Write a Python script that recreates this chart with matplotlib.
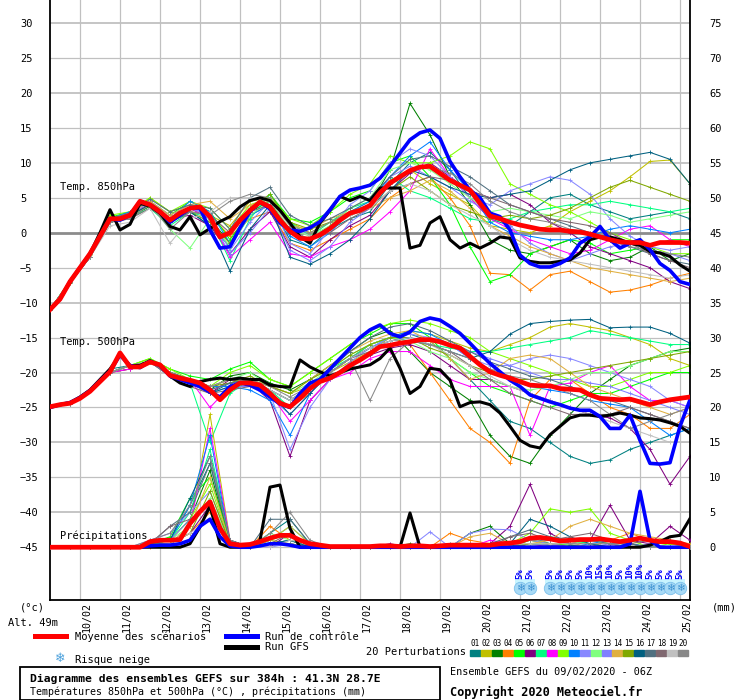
import matplotlib
matplotlib.use("Agg")
import matplotlib.pyplot as plt
import numpy as np
from matplotlib.lines import Line2D
from matplotlib.patches import Rectangle
from matplotlib.transforms import ScaledTranslation

plt.rcParams['font.family'] = ['DejaVu Sans Mono', 'DejaVu Sans']

# Echéances (heures depuis le 09/02/2020 06Z)
heures_6h = np.arange(0, 385, 6)
heures_12h = np.arange(0, 385, 12)

jours = ['10/02', '11/02', '12/02', '13/02', '14/02', '15/02', '16/02', '17/02',
         '18/02', '19/02', '20/02', '21/02', '22/02', '23/02', '24/02', '25/02']
heures_jours = [18, 42, 66, 90, 114, 138, 162, 186, 210, 234, 258, 282, 306, 330, 354, 378]

couleurs = ['#008080', '#c0c000', '#008000', '#ff8000', '#00ff00', '#800080', '#00ff80',
            '#ff00ff', '#80ff00', '#0080ff', '#8888ff', '#80ff80', '#8080ff', '#e0b040',
            '#80a800', '#006080', '#507080', '#806870', '#c0c0c0', '#888888']

# --- Moyenne, contrôle, GFS (pas de 6h) ---
t850_moy = [-11, -9.5, -7, -5, -3, -0.5, 2.0, 2.0, 2.5, 4.5, 4.0, 3.0, 1.8, 2.8, 3.5, 3.7,
            2.3, -0.6, 0.0, 1.8, 3.2, 4.4, 3.7, 1.8, 0.2, -0.8, -0.9, -0.3, 0.6, 1.8, 2.8, 3.2,
            3.9, 5.7, 7.1, 8.0, 8.9, 9.4, 9.5, 8.5, 7.5, 6.8, 6.1, 4.2, 2.4, 2.0, 1.5, 1.1,
            0.8, 0.5, 0.4, 0.4, 0.2, 0.1, -0.2, -0.6, -1.0, -1.3, -1.4, -1.4, -1.8, -1.4, -1.4,
            -1.4, -1.5]
t850_ctrl = [-11, -9.5, -7, -5, -3, -0.5, 2.0, 1.8, 2.5, 4.5, 4.0, 3.0, 1.5, 2.5, 3.5, 3.5,
             0.4, -2.2, -2.0, 0.7, 3.0, 4.4, 3.4, 1.4, 0.4, 0.2, 0.7, 1.6, 3.3, 5.2, 6.1, 6.4,
             6.8, 7.8, 9.5, 11.4, 13.3, 14.3, 14.7, 13.5, 10.2, 8.0, 6.1, 5.0, 2.8, 2.3, 0.4,
             -3.2, -4.4, -4.9, -4.9, -4.4, -3.6, -1.5, -0.6, 0.9, -1.0, -2.2, -1.5, -1.0, -2.4,
             -4.4, -5.4, -7.0, -7.4]
t850_gfs = [-11, -9.5, -7, -5, -3, 0.0, 3.3, 0.4, 1.2, 4.2, 3.8, 2.8, 0.9, 0.4, 2.3, -0.3,
            0.6, 1.6, 2.3, 3.7, 4.6, 5.0, 4.6, 3.2, 1.4, -0.6, -1.5, 1.4, 3.2, 5.2, 4.6, 5.2,
            4.6, 6.4, 6.4, 6.4, -2.2, -1.8, 1.4, 2.3, -1.0, -2.2, -1.5, -2.2, -1.5, -0.6, -0.8,
            -3.6, -4.1, -4.3, -4.3, -4.1, -3.9, -2.9, -1.0, -0.6, -0.6, -1.0, -1.5, -1.8, -2.7,
            -2.9, -3.4, -4.6, -5.5]

t500_moy = [-24.9, -24.6, -24.4, -23.7, -22.7, -21.3, -19.9, -17.2, -19.2, -19.2, -18.5, -18.9,
            -20.4, -20.8, -21.1, -21.5, -22.5, -23.9, -22.5, -21.5, -21.5, -21.8, -23.0, -24.4,
            -24.9, -23.7, -22.3, -21.3, -20.8, -20.0, -19.0, -18.2, -17.3, -16.3, -16.1, -15.8,
            -15.6, -15.3, -15.3, -15.6, -16.1, -16.5, -17.7, -18.9, -19.9, -20.4, -20.8, -21.3,
            -21.8, -21.9, -21.9, -22.3, -22.4, -22.5, -23.2, -23.7, -23.8, -23.9, -23.8, -24.2,
            -24.6, -24.2, -23.9, -23.7, -23.5]
t500_ctrl = [-25, -24.6, -24.3, -23.6, -22.6, -21.2, -19.8, -17.5, -19.0, -19.3, -18.4, -19.0,
             -20.5, -21.0, -21.5, -22.0, -22.8, -23.5, -22.0, -21.5, -21.8, -22.5, -23.5, -24.5,
             -25.0, -23.0, -21.5, -21.0, -19.5, -18.0, -16.5, -15.0, -13.9, -13.2, -14.4, -14.9,
             -14.2, -12.7, -12.2, -12.5, -13.4, -14.4, -15.8, -17.3, -18.7, -19.9, -21.1, -22.0,
             -23.2, -23.7, -24.2, -24.6, -25.1, -25.4, -25.4, -26.3, -28.0, -28.0, -26.1, -29.7,
             -33.0, -33.1, -32.9, -27.7, -23.9]
t500_gfs = [-25, -24.6, -24.3, -23.5, -22.5, -21.0, -19.5, -17.5, -19.0, -19.0, -18.3, -19.0,
            -20.5, -21.5, -22.0, -21.3, -21.0, -20.8, -21.0, -20.8, -21.0, -21.0, -21.8, -22.0,
            -22.1, -18.2, -19.2, -19.9, -20.5, -20.0, -19.5, -19.2, -18.9, -18.0, -16.5, -19.4,
            -23.0, -22.0, -19.4, -19.6, -21.1, -24.9, -24.3, -24.2, -24.6, -25.8, -27.7, -29.7,
            -30.5, -30.8, -28.9, -27.7, -26.5, -26.1, -26.1, -26.3, -26.1, -25.8, -26.1, -26.5,
            -26.6, -26.8, -27.2, -27.7, -28.7]

precip_moy = [0, 0, 0, 0, 0, 0, 0, 0, 0, 0, 0.8, 1.0, 1.0, 1.1, 3.4, 5.1, 6.5, 2.7, 0.5, 0.3,
              0.4, 0.8, 1.3, 1.7, 1.7, 1.0, 0.5, 0.3, 0.1, 0.1, 0.1, 0.1, 0.1, 0.2, 0.2, 0.1,
              0.2, 0.2, 0.1, 0.2, 0.3, 0.3, 0.3, 0.3, 0.3, 0.5, 0.6, 0.8, 1.3, 1.4, 1.2, 0.9,
              1.0, 1.1, 1.1, 1.2, 1.0, 0.8, 1.0, 1.3, 1.0, 0.8, 0.8, 0.6, 0.1]
precip_ctrl = [0, 0, 0, 0, 0, 0, 0, 0, 0, 0, 0.2, 0.3, 0.3, 0.5, 1.0, 3.0, 4.0, 1.5, 0.2, 0,
               0, 0.2, 0.5, 0.5, 0.3, 0, 0, 0, 0, 0, 0, 0, 0, 0, 0, 0, 0, 0, 0, 0, 0, 0, 0, 0,
               0, 0, 0, 0, 0, 0, 0, 0, 0, 0, 0, 0, 0, 0, 0.5, 8.0, 1.0, 0, 0, 0, 0]
precip_gfs = [0, 0, 0, 0, 0, 0, 0, 0, 0, 0, 0, 0, 0, 0, 0.5, 2.9, 5.9, 0.5, 0, 0, 0, 1.0,
              8.6, 8.9, 2.7, 0, 0, 0, 0, 0, 0, 0, 0, 0, 0, 0, 4.9, 0, 0, 0, 0, 0, 0, 0, 0, 0,
              0, 0, 0, 0, 0, 0, 0, 0, 0, 0, 0, 0, 0, 0, 0.3, 0.8, 1.5, 1.7, 4.1]

# --- 20 perturbations (pas de 12h) ---
t850_membres = [
    [-11, -7, -3.5, 1.5, 2.5, 4.2, 2.0, 3.0, 1.0, -2.0, 2.5, 4.0, -1.0, -2.0, 0.5, 2.0, 3.0, 7.0, 10.0, 11.5, 9.0, 5.0, 2.0, 1.0, 3.0, 5.0, 5.5, 4.0, 3.0, 2.0, 2.5, 3.0, 2.0],
    [-11, -7, -3.2, 2.0, 2.8, 5.0, 3.0, 4.0, 2.5, 1.0, 4.5, 5.0, 1.5, 0.0, 1.5, 3.0, 4.5, 7.5, 9.0, 7.0, 5.5, 4.0, 1.0, 0.5, 0.0, 1.0, 3.0, 4.5, 6.0, 8.0, 10.2, 10.4, 7.0],
    [-11, -7.2, -3.5, 1.8, 2.2, 3.8, 1.5, 3.5, 2.0, -1.5, 3.0, 4.5, 0.0, -1.0, 1.0, 3.0, 4.0, 9.0, 18.5, 14.0, 8.0, 4.0, -1.0, -2.5, -3.0, -2.0, -1.0, -3.0, -4.0, -3.5, -2.0, -4.0, -3.0],
    [-11, -7, -3.5, 2.0, 2.5, 4.0, 1.5, 3.0, 2.5, -0.5, 2.0, 3.0, -1.5, -2.5, -1.0, 0.5, 2.0, 5.0, 7.0, 8.0, 5.0, 1.0, -5.8, -6.0, -8.2, -6.0, -5.5, -7.0, -8.5, -8.2, -7.5, -6.5, -5.8],
    [-11, -6.8, -3.0, 2.2, 3.0, 4.5, 2.5, 4.5, 3.0, -1.0, 3.0, 5.5, 2.0, 1.5, 3.0, 5.0, 6.0, 10.0, 11.0, 8.0, 4.0, -2.0, -7.0, -6.0, -3.0, -2.0, -1.0, -1.5, -3.0, -2.5, -2.0, -1.0, -1.0],
    [-11, -7, -3.5, 1.8, 3.0, 4.5, 2.0, 2.5, 1.0, -3.0, 0.5, 3.0, -2.0, -3.5, -1.0, 1.0, 2.5, 6.0, 8.5, 10.0, 8.0, 6.0, 5.0, 5.5, 4.0, 1.5, 0.0, -2.0, -3.0, -4.0, -5.0, -7.0, -8.0],
    [-11, -7, -3.5, 1.5, 2.2, 3.5, 1.0, 3.0, 2.0, -4.0, 2.0, 5.5, 1.5, -0.5, 1.5, 3.5, 4.5, 8.0, 6.0, 5.0, 3.5, 2.0, 1.5, 2.0, 3.0, 3.5, 4.0, 4.0, 4.5, 4.0, 3.5, 3.0, 3.5],
    [-11, -7, -3.5, 2.0, 2.8, 4.0, 1.5, 3.5, 2.0, -3.5, -1.0, 1.5, -3.0, -3.5, -2.0, -1.0, 0.5, 3.0, 6.0, 12.0, 8.0, 5.0, 2.0, 0.5, -1.0, -2.0, -3.0, -2.5, -1.0, 0.5, 1.0, -1.0, -2.0],
    [-11, -7, -3.0, 2.5, 3.0, 5.0, 3.0, 4.5, 3.5, 0.5, 4.0, 5.0, 2.0, 1.0, 3.0, 5.5, 7.0, 11.0, 10.0, 10.0, 11.0, 13.0, 12.0, 7.0, 5.5, 4.0, 3.0, 1.5, 0.0, -1.0, -2.0, -3.0, -3.0],
    [-11, -7, -3.5, 2.0, 3.0, 4.5, 2.0, 4.5, 3.0, -1.5, 2.5, 4.0, -0.5, -2.0, 0.0, 3.0, 4.5, 8.0, 11.0, 13.0, 9.0, 6.0, 1.5, 0.0, -0.5, -1.0, -1.0, -0.5, 0.5, 1.0, 0.5, 0.0, 0.5],
    [-11, -7, -3.5, 2.0, 2.5, 4.0, 2.0, 3.5, 2.5, -2.5, 1.5, 4.5, -1.5, -3.0, 0.5, 4.0, 6.0, 10.0, 12.0, 11.0, 8.0, 5.0, 4.0, 6.0, 7.0, 8.0, 7.5, 5.5, 2.0, -0.5, -2.0, -2.5, -2.0],
    [-11, -7, -3.5, 2.0, 2.5, 4.0, 0.5, -2.2, 2.0, -2.0, 2.5, 4.5, 0.5, -0.5, 1.0, 3.5, 5.0, 9.0, 10.0, 9.0, 7.0, 5.0, 3.0, 3.5, 3.0, 2.5, 2.0, 3.0, 2.5, 1.5, 2.0, 2.5, 3.0],
    [-11, -7, -3.5, 2.0, 2.5, 4.5, 2.5, 4.0, 2.0, -3.0, 0.0, 3.5, -2.5, -4.0, -2.0, 1.5, 3.5, 8.0, 9.5, 8.0, 6.5, 4.5, 3.0, 1.0, -1.5, -3.0, -4.0, -3.0, -2.0, -1.5, -2.5, -3.0, -4.0],
    [-11, -7, -3.5, 2.0, 2.8, 4.5, 2.5, 4.0, 4.5, 2.0, 4.0, 4.5, 1.0, 0.5, 2.0, 3.0, 3.5, 5.0, 6.0, 7.5, 6.0, 3.5, 1.0, -0.5, -2.0, -3.0, -4.0, -5.0, -5.5, -6.0, -6.5, -7.0, -6.5],
    [-11, -7, -3.5, 2.0, 2.5, 4.0, 2.0, 3.0, 1.5, -1.5, 3.5, 5.5, 1.5, 0.5, 1.5, 2.5, 3.5, 6.0, 8.0, 6.0, 4.0, 3.0, 2.0, 2.5, 2.0, 2.5, 3.5, 5.0, 6.5, 7.5, 6.5, 5.5, 4.5],
    [-11, -7, -3.5, 2.0, 2.5, 4.0, 1.5, 3.0, 1.0, -5.5, 0.5, 4.0, -3.5, -4.5, -3.0, -1.0, 2.0, 6.0, 9.0, 8.0, 6.5, 5.5, 5.0, 5.5, 6.0, 7.5, 9.0, 10.0, 10.5, 11.0, 11.5, 10.5, 7.0],
    [-11, -7, -3.5, 2.0, 2.8, 4.8, 3.0, 4.0, 3.5, 0.5, 5.0, 6.5, 2.5, 1.0, 2.0, 3.5, 5.0, 8.0, 10.5, 11.0, 9.5, 8.0, 6.0, 4.0, 3.0, 2.0, 1.0, 0.0, -1.0, -2.0, -3.0, -4.0, -4.5],
    [-11, -7, -3.5, 1.5, 2.0, 3.5, 1.5, 3.0, 2.5, 0.0, 3.0, 4.0, 0.5, -1.0, 0.0, 2.0, 3.5, 6.0, 7.0, 8.0, 7.5, 6.0, 5.0, 4.0, 3.0, 2.0, 1.5, 1.0, 0.0, -1.5, -3.0, -4.0, -5.0],
    [-11, -7, -3.5, 1.0, 1.5, 3.5, -1.5, 2.0, 3.0, 5.0, 5.0, 4.5, 1.0, -0.5, 0.5, 2.5, 3.5, 6.0, 7.0, 6.0, 4.0, 2.5, 1.0, -1.0, -2.5, -3.5, -4.0, -4.5, -5.0, -5.5, -6.0, -6.5, -6.0],
    [-11, -7, -3.5, 1.5, 2.0, 4.0, 0.5, 3.0, 2.5, 4.5, 5.5, 5.0, 1.0, 0.0, 1.5, 3.0, 4.0, 7.0, 9.0, 9.5, 8.5, 7.0, 4.5, 3.0, 2.0, 1.5, 0.5, 0.0, -1.0, -2.0, -2.5, -3.0, -3.5],
]

t500_membres = [
    [-25, -24.5, -22.5, -19.5, -19, -18.5, -20, -21, -23, -21.5, -21, -22.5, -24, -22, -20, -18, -16, -15, -14.5, -15.5, -18, -21, -24, -27, -28, -30, -32, -33, -32.5, -31, -30, -29, -28],
    [-25, -24.5, -22.5, -20, -19.5, -18.5, -20, -21.5, -22, -21, -21, -22, -23, -22, -20, -18.5, -17, -15, -14, -14.5, -15.5, -16.5, -17, -16, -15, -13.5, -13, -13.5, -14, -15, -16, -18, -19],
    [-25, -24.5, -22.5, -20, -19, -18.5, -20.5, -21, -22.5, -20.5, -20, -21.5, -22.5, -21, -19, -17, -15, -14, -17, -20, -22, -24, -29, -32, -33, -29, -26, -23, -21, -19, -18, -17, -16.5],
    [-25, -24.5, -22.5, -20, -19, -18.5, -20, -21, -22, -22, -21.5, -23, -25, -23, -20, -18, -16, -15, -16, -20, -24, -28, -30, -33, -24, -21, -21, -23, -25, -26, -28, -28, -26],
    [-25, -24.5, -22.5, -20, -19, -18, -19.5, -20.5, -21, -19.5, -18.5, -21, -22, -20, -18, -16, -14.5, -13, -13, -15, -18, -20, -22, -23, -24, -25, -24, -23, -23, -22, -21, -20, -20],
    [-25, -24.5, -22.5, -20, -19.5, -18.5, -20, -21.5, -23, -21, -21.5, -24, -32, -24, -21, -19, -17.5, -16.5, -16, -17, -19, -21, -21, -22, -23, -24, -25, -26, -26.5, -28, -31, -36, -32],
    [-25, -24.5, -22.5, -20, -19, -18.5, -20, -21.5, -30, -23, -21, -22.5, -25, -22, -19.5, -18, -16, -15, -15.5, -16, -16.5, -17, -17, -16.5, -16, -15.5, -15, -14, -14.5, -15, -15.5, -16, -16],
    [-25, -24.5, -22.5, -20, -19.5, -18.5, -20, -21, -25, -22, -22, -23, -27, -24, -21, -20, -18, -17, -17, -19, -21, -22, -22, -22, -29, -22, -21.5, -20, -19, -22, -24, -24, -25],
    [-25, -24.5, -22.5, -20, -19, -18, -19.5, -21, -22, -20, -19, -21, -22, -20, -18, -16, -14, -13, -12.5, -13, -14, -15, -17, -18, -19, -20, -21, -22, -22, -21, -20, -20, -19],
    [-25, -24.5, -22.5, -20, -19, -18.5, -20, -21, -22, -22, -22.5, -24, -29, -23, -20, -18, -16.5, -15, -14, -14.5, -16, -18, -20, -21, -22, -22.5, -23, -24, -24.5, -25, -27, -29, -28],
    [-25, -24.5, -22.5, -20, -19, -18.5, -20, -21, -22.5, -21.5, -21.5, -23, -31, -25, -21, -18.5, -16.5, -15, -14.5, -15, -16, -18, -19, -19, -18, -17.5, -18, -19, -20, -21, -22, -24, -25],
    [-25, -24.5, -22.5, -20, -19, -18.5, -20, -21, -22, -21, -20, -22, -23, -21.5, -19.5, -17.5, -16, -15, -15.5, -17, -18, -20, -21, -22, -22.5, -22, -21, -20, -20, -19, -18, -17, -17],
    [-25, -24.5, -22.5, -20, -19, -18.5, -20.5, -21.5, -23, -22, -22, -23.5, -26, -23, -20, -18, -16.5, -15.5, -15, -15.5, -16, -17, -18, -19, -20, -21, -21, -21.5, -22, -23, -24, -25, -26],
    [-25, -24.5, -22.5, -20, -19, -18.5, -20, -21, -22, -21, -21, -22, -23, -21, -19, -17, -15.5, -14.5, -14, -15.5, -18, -21, -20, -18, -17.5, -18, -20, -22, -23, -24, -25, -26, -25],
    [-25, -24.5, -22.5, -20, -19, -18.5, -20, -21, -22, -21.5, -20.5, -22, -23, -21, -19.5, -17.5, -16, -15, -15, -16.5, -17.5, -19, -20, -21, -21, -20.5, -20, -19.5, -19, -18.5, -18, -17.5, -17],
    [-25, -24.5, -22.5, -20, -19, -18.5, -20, -21, -23, -22, -21.5, -23, -26, -23, -20, -18, -16.5, -15.5, -15, -16, -17, -18, -17, -14.5, -13, -12.7, -12.5, -12.4, -13.6, -13.5, -13.5, -14.4, -15.8],
    [-25, -24.5, -22.5, -20, -19, -18.5, -20, -21, -22.5, -21.5, -21, -22.5, -24, -22, -19.5, -17, -15, -13.5, -13, -14, -15.5, -17, -18.5, -19.5, -20.5, -21, -22, -23, -24, -25, -26, -27, -28],
    [-25, -24.5, -22.5, -20, -19, -18.5, -20.5, -22, -23, -22.5, -22, -23, -25, -22, -20, -18, -17, -16, -15.5, -16, -17, -19, -21, -23, -24, -25, -26, -26, -26, -25, -26, -27, -28],
    [-25, -24.5, -22.5, -20, -19, -18.5, -20, -21.5, -22, -21, -21, -22.5, -24, -22, -20, -18, -16.5, -15.5, -15, -16, -17.5, -19, -20.5, -22, -23, -24, -25, -26, -27, -28, -29, -30, -30],
    [-25, -24.5, -22.5, -20, -19, -18.5, -20, -21, -22, -21, -21, -22, -23.5, -22, -20, -18, -24, -18, -15.5, -16, -17, -18, -19.5, -20.5, -21, -22, -23, -24, -26, -28, -27, -26, -25],
]

precip_membres = [
    [0, 0, 0, 0, 0, 0.5, 1, 6, 12, 0.5, 0, 2, 4, 0.5, 0, 0, 0, 0, 0, 0, 0.5, 0, 0, 0, 1.5, 0.5, 0, 0, 0, 0, 0, 0, 0],
    [0, 0, 0, 0, 0, 0.3, 0.5, 3, 19, 1, 0, 1, 0.5, 0, 0, 0, 0, 0, 0, 0, 0, 0, 0, 0, 0.5, 0.3, 0, 1, 0.5, 0, 0.5, 0, 0],
    [0, 0, 0, 0, 0, 0.5, 1, 4, 11, 0.5, 0, 0.5, 1, 0, 0, 0, 0, 0, 0.5, 0, 0, 2, 3, 0.5, 0, 0, 0, 0, 0, 0.5, 0, 0, 0],
    [0, 0, 0, 0, 0, 0, 0.5, 2, 5, 0.5, 0, 3, 1, 0, 0, 0, 0, 0, 0, 0, 2, 1, 0.5, 0.3, 1, 0.5, 0, 0, 1, 2, 1, 0.5, 0],
    [0, 0, 0, 0, 0, 0.5, 1.5, 7, 10, 1, 0, 0.5, 0.5, 0, 0, 0, 0, 0, 0, 0, 0, 0, 0.5, 0, 1, 0.5, 0.3, 0, 0, 0, 0, 0, 0],
    [0, 0, 0, 0, 0, 0.3, 0.5, 2, 6, 0.5, 0, 0, 2, 0.3, 0, 0, 0, 0.5, 0, 0, 0, 0, 0.5, 3, 9, 2, 0.5, 1, 6, 1, 0.5, 3, 1],
    [0, 0, 0, 0, 0, 0.5, 1, 5, 14, 1, 0, 1, 3, 0.5, 0, 0, 0, 0, 0, 0, 0, 0, 0, 0.5, 1, 1.5, 1, 0.5, 0, 0, 0, 0, 0],
    [0, 0, 0, 0, 0, 0.5, 0.5, 3, 17, 1, 0, 0.5, 0.5, 0, 0, 0, 0, 0, 0, 0, 0, 0, 1, 0.5, 0, 0.5, 0, 0, 0, 0, 0, 0, 0],
    [0, 0, 0, 0, 0, 0.3, 1, 4, 9, 0.5, 0, 1, 2, 0, 0, 0, 0, 0, 0, 0, 0, 0, 0, 0.5, 2, 5.5, 5, 5.5, 2, 1, 0, 0.5, 0],
    [0, 0, 0, 0, 0, 0.5, 1, 6, 16, 0.5, 0, 0.5, 1, 0, 0, 0, 0, 0, 0, 0, 0, 0, 0, 0, 0.5, 0.3, 0, 0.5, 1, 0.5, 0, 0, 0],
    [0, 0, 0, 0, 0, 1, 2, 5, 8, 0.5, 0, 0, 0.5, 0, 0, 0, 0, 0, 0, 2.2, 0, 2, 2.6, 2.5, 1, 0.5, 0, 0, 0, 0, 0.5, 0, 0],
    [0, 0, 0, 0, 0, 0.5, 1, 3, 7, 0.5, 0, 2, 1, 0, 0, 0, 0, 0, 0, 0, 0, 0, 0, 0.5, 1, 1.5, 0.5, 1, 0.5, 0, 0, 0, 0],
    [0, 0, 0, 0, 0, 0.5, 1, 4, 6, 0.5, 0, 0.5, 0.5, 0, 0, 0, 0, 0, 0, 0, 0, 0, 0, 0, 0.5, 0.3, 0, 0, 0.5, 0, 0, 0, 0],
    [0, 0, 0, 0, 0, 0.3, 0.5, 3, 10, 0.5, 0, 1, 3, 0.5, 0, 0, 0, 0, 0, 0, 0, 1.5, 2, 0.5, 0.5, 1, 3, 4, 3, 2, 1.5, 1, 0.5],
    [0, 0, 0, 0, 0, 0.5, 0.5, 2, 8, 0.5, 0, 0.5, 0.5, 0, 0, 0, 0, 0, 0, 0, 0, 0, 0, 0, 0.5, 0.5, 0.5, 0, 0, 0, 0, 0, 0],
    [0, 0, 0, 0, 0, 0.5, 1, 7, 13, 1, 0, 0.5, 1, 0, 0, 0, 0, 0, 0, 0, 0, 0.5, 0.5, 0.5, 4, 3, 1.5, 0.5, 0, 0, 0, 0, 0],
    [0, 0, 0, 0, 0, 0.5, 3, 5, 12, 1, 0, 4, 4, 0.5, 0, 0, 0, 0, 0, 0, 0, 0, 0.5, 1.5, 2.5, 1.5, 1, 1, 0.5, 0.5, 0, 0, 0],
    [0, 0, 0, 0, 0, 0.5, 3, 4, 6, 0.5, 0, 0.5, 2, 0, 0, 0, 0, 0, 0, 0, 0, 0, 0, 1.5, 2, 1, 1.5, 2, 1, 0.5, 1, 1, 0],
    [0, 0, 0, 0, 0, 0.3, 0.5, 2, 4, 0.5, 0, 0, 1, 0.5, 0, 0, 0, 0, 0, 0, 0, 0, 0, 0.5, 0.5, 0.5, 0.5, 0, 0, 0, 0, 0, 0],
    [0, 0, 0, 0, 0, 1, 2, 6, 13, 1, 0, 2, 5, 1, 0, 0, 0, 0, 0, 0, 0, 0, 0, 0.5, 1, 1, 0.5, 0.5, 0.5, 0, 0, 0, 0],
]

# Risque neige
neige_heures = [282, 288, 300, 306, 312, 318, 324, 330, 336, 342, 348, 354, 360, 366, 372, 378]
neige_pct = [5, 5, 5, 5, 5, 5, 10, 15, 10, 5, 10, 10, 5, 5, 5, 5]

# --------------------------------------------------------------------
W, H = 740, 700
fig = plt.figure(figsize=(W / 100, H / 100), dpi=100)
ax = fig.add_axes([50 / W, 100 / H, 640 / W, 600 / H])
ax.set_xlim(0, 384)
ylo, yhi = -52.55, 33.3
ax.set_ylim(ylo, yhi)

# grille
for v in range(-45, 31, 5):
    if v == 0:
        continue
    ax.axhline(v, color='#c0c0c0', lw=1.3 if v % 10 == 0 else 0.9, zorder=0)
for h in heures_jours:
    ax.axvline(h, color='#c0c0c0', lw=0.9, zorder=0)
ax.axhline(0, color='#8c8c8c', lw=2.0, zorder=0.5)

ax.set_xticks([])
ax.set_yticks(range(-45, 31, 5))
ax.tick_params(axis='y', length=0, pad=21.6, labelsize=7.5)
for lab in ax.get_yticklabels():
    lab.set_horizontalalignment('left')
for s in ['left', 'right', 'bottom']:
    ax.spines[s].set_linewidth(1.3)
ax.spines['top'].set_visible(False)

# perturbations
for i in range(20):
    kw = dict(color=couleurs[i], lw=0.75, marker='+', ms=2.5, mew=0.6, zorder=2)
    ax.plot(heures_12h, t850_membres[i], **kw)
    ax.plot(heures_12h, t500_membres[i], **kw)

ax.plot(heures_6h, t850_gfs, color='black', lw=2.2, zorder=4)
ax.plot(heures_6h, t500_gfs, color='black', lw=2.2, zorder=4)
ax.plot(heures_6h, t850_ctrl, color='#0000ff', lw=2.6, zorder=5)
ax.plot(heures_6h, t500_ctrl, color='#0000ff', lw=2.6, zorder=5)
ax.plot(heures_6h, t850_moy, color='#ff0000', lw=3.4, zorder=6)
ax.plot(heures_6h, t500_moy, color='#ff0000', lw=3.4, zorder=6)

# précipitations sur l'axe de droite (mm)
ax2 = ax.twinx()
ax2.set_ylim(ylo + 45, yhi + 45)
ax2.set_yticks(range(0, 76, 5))
ax2.tick_params(axis='y', length=0, pad=13.7, labelsize=7.5)
for s in ax2.spines.values():
    s.set_visible(False)
for i in range(20):
    ax2.plot(heures_12h, precip_membres[i], color=couleurs[i], lw=0.75, marker='+',
             ms=2.5, mew=0.6, zorder=2)
ax2.plot(heures_6h, precip_gfs, color='black', lw=2.2, zorder=4)
ax2.plot(heures_6h, precip_ctrl, color='#0000ff', lw=2.6, zorder=5)
ax2.plot(heures_6h, precip_moy, color='#ff0000', lw=3.4, zorder=6)

# étiquettes des courbes
ax.text(6, 6.5, 'Temp. 850hPa', fontsize=7.5, va='center', ha='left', zorder=7)
ax.text(6, -15.6, 'Temp. 500hPa', fontsize=7.5, va='center', ha='left', zorder=7)
ax.text(6, -43.4, 'Précipitations', fontsize=7.5, va='center', ha='left', zorder=7)

# risque neige
ax.add_patch(Rectangle((279, -50.2), 12, 0.7, color='#c8f4ff', lw=0, zorder=6))
ax.add_patch(Rectangle((297, -50.2), 84, 0.7, color='#c8f4ff', lw=0, zorder=6))
ax.scatter(neige_heures, [-50.85] * len(neige_heures), s=80, color='#a8daf6',
           edgecolors='#7cc0ec', linewidths=0.6, zorder=7)
for h, p in zip(neige_heures, neige_pct):
    ax.text(h, -50.85, '❄', fontsize=7.5, color='#3a90d0', ha='center', va='center',
            family='DejaVu Sans', zorder=8)
    ax.text(h, -49.5, f'{p}%', fontsize=6.5, color='#0000ff', rotation=90,
            ha='center', va='bottom', fontweight='bold', zorder=8)

# dates sous l'axe
trans = ax.get_xaxis_transform() + ScaledTranslation(7 / 100, -2 / 100, fig.dpi_scale_trans)
for h, j in zip(heures_jours, jours):
    ax.text(h, 0, j, rotation=90, ha='center', va='top', fontsize=7.2, transform=trans)


def fpos(x, y):
    return x / W, 1 - y / H


fig.text(*fpos(20, 607), '(°c)', fontsize=7.5, va='center')
fig.text(*fpos(8, 623), 'Alt. 49m', fontsize=7.5, va='center')
fig.text(*fpos(712, 607), '(mm)', fontsize=7.5, va='center')

# légende
fig.add_artist(Line2D([35 / W, 66 / W], [1 - 636 / H] * 2, color='#ff0000', lw=3.6))
fig.text(*fpos(75, 637), 'Moyenne des scénarios', fontsize=7.5, va='center')
fig.add_artist(Line2D([226 / W, 257 / W], [1 - 636 / H] * 2, color='#0000ff', lw=3.6))
fig.text(*fpos(265, 637), 'Run de contrôle', fontsize=7.5, va='center')
fig.add_artist(Line2D([226 / W, 257 / W], [1 - 647 / H] * 2, color='black', lw=3.6))
fig.text(*fpos(265, 647), 'Run GFS', fontsize=7.5, va='center')
fig.text(*fpos(60, 659), '❄', fontsize=9, color='#4aa0dc', ha='center', va='center',
         family='DejaVu Sans')
fig.text(*fpos(75, 660), 'Risque neige', fontsize=7.5, va='center')

fig.text(*fpos(466, 652), '20 Perturbations', fontsize=7.5, va='center', ha='right')
for i in range(20):
    x0 = 470 + i * 10.96
    fig.add_artist(Rectangle((x0 / W, 1 - 656 / H), 10 / W, 6 / H, color=couleurs[i],
                             transform=fig.transFigure))
    fig.text((x0 + 5) / W, 1 - 643 / H, f'{i + 1:02d}', fontsize=5.5, ha='center',
             va='center')

# cartouche
fig.add_artist(Rectangle((20 / W, 0), 420 / W, 33 / H, fill=False, ec='black', lw=1.3,
                         transform=fig.transFigure))
fig.text(*fpos(30, 679), 'Diagramme des ensembles GEFS sur 384h : 41.3N 28.7E',
         fontsize=8.2, fontweight='bold', va='center')
fig.text(*fpos(30, 692), 'Températures 850hPa et 500hPa (°C) , précipitations (mm)',
         fontsize=7.2, va='center')
fig.text(*fpos(450, 672), 'Ensemble GEFS du 09/02/2020 - 06Z', fontsize=7.3, va='center')
fig.text(*fpos(450, 692), 'Copyright 2020 Meteociel.fr', fontsize=8.6, fontweight='bold',
         va='center')

fig.savefig('out.png', dpi=100)
